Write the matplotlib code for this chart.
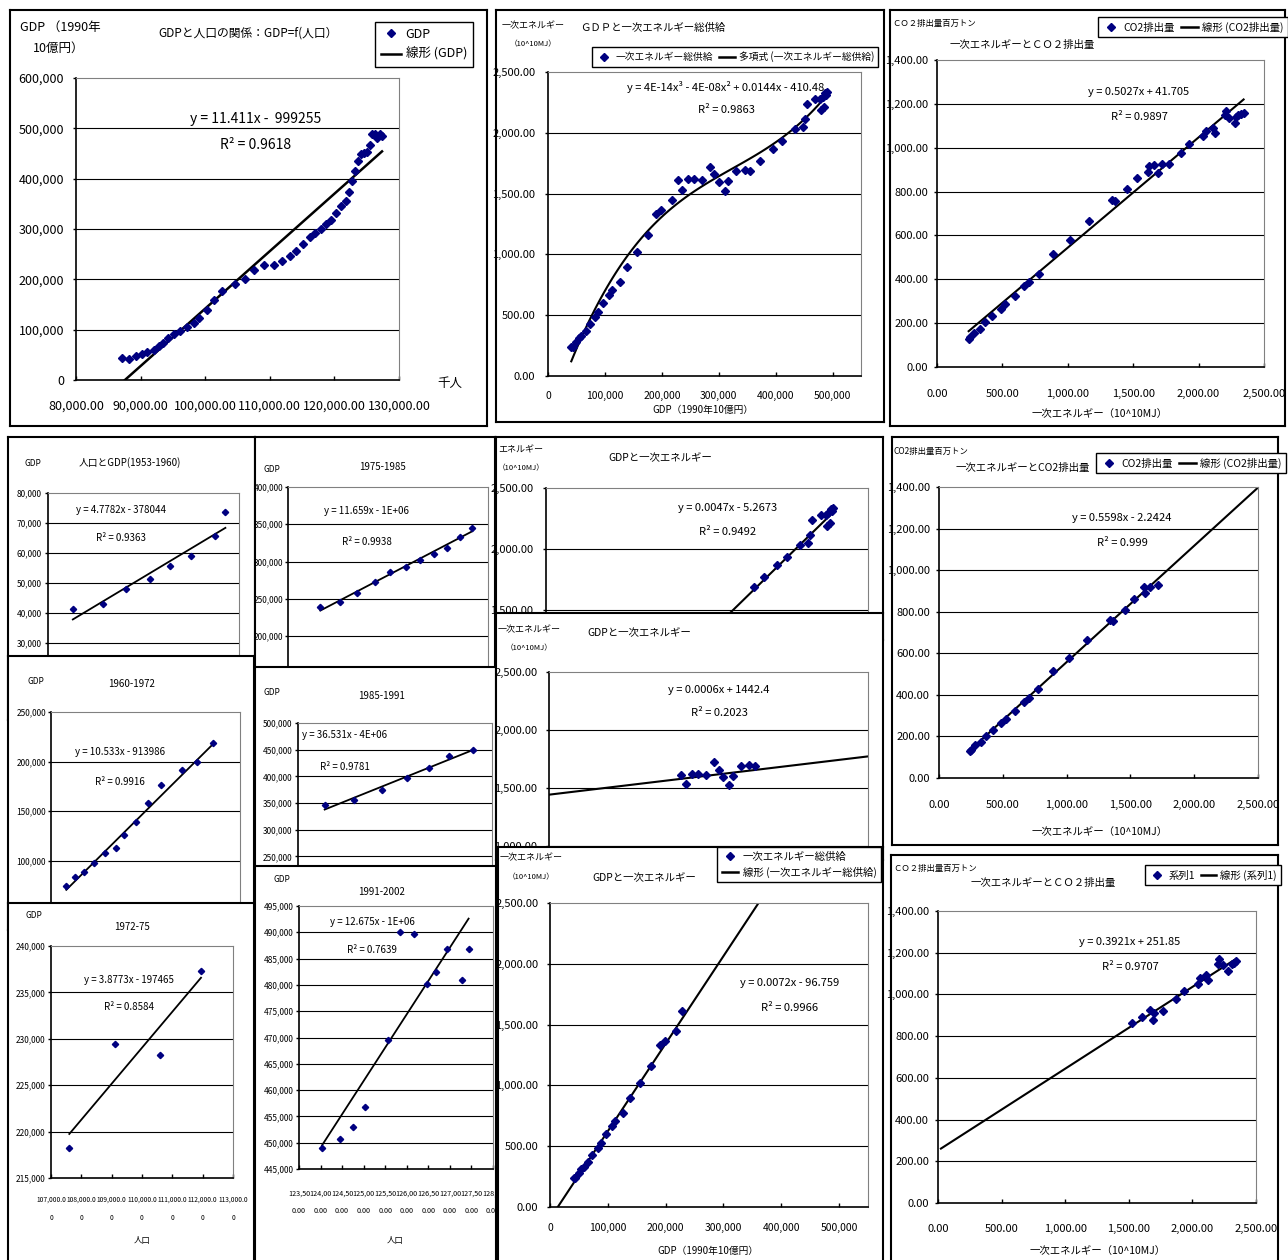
import numpy as np
import matplotlib
matplotlib.use('Agg')
import matplotlib.pyplot as plt
from matplotlib.ticker import FuncFormatter
from matplotlib.lines import Line2D

# ---- values ----
# GDP vs population (top left, all years)
pop_all = [87062, 88247, 89278, 90258, 90979, 92062, 92887, 93402, 94278, 95155, 96134, 97165,
           98196, 99072, 100206, 101340, 102577, 104639, 106134, 107577, 109124, 110619, 111959,
           113093, 114124, 115155, 116289, 117062, 117990, 118763, 119536, 120309, 121082, 121753,
           122268, 122784, 123196, 123660, 124175, 124588, 125000, 125567, 125876, 126237, 126598,
           127010, 127371]
gdp_all = [43000, 42300, 47000, 51600, 56200, 59500, 67500, 72800, 83300, 90600, 97200, 105800,
           112400, 123700, 138900, 158700, 177200, 189800, 199700, 218300, 228200, 228200, 237400,
           246700, 256600, 270500, 284400, 292300, 300900, 310800, 317500, 332000, 345900, 355200,
           373700, 394800, 414700, 434500, 448400, 451100, 453000, 467600, 489400, 489400, 480800,
           488100, 484800]

# GDP vs primary energy supply (sorted by GDP)
gdp_e = [40900, 43900, 49700, 54400, 58500, 66100, 73100, 82500, 87700, 96500, 106400, 112300,
         125700, 138600, 156100, 175400, 190100, 199400, 217500, 228100, 236300, 246200, 256100,
         270200, 284200, 292400, 300000, 310500, 316900, 330400, 345600, 354970, 371900, 394700,
         411700, 434500, 447400, 450900, 454400, 469000, 478400, 479500, 482500, 485400, 487100,
         488300, 490100]
energy = [241, 241, 282, 309, 329, 370, 427, 487, 523, 597, 665, 706, 775, 893, 1021, 1158, 1336,
          1364, 1451, 1610, 1533, 1624, 1624, 1610, 1720, 1659, 1596, 1522, 1605, 1687, 1698, 1687,
          1769, 1865, 1930, 2034, 2048, 2117, 2234, 2281, 2281, 2191, 2295, 2212, 2327, 2308, 2336]

# energy vs CO2 (all years / early years / later years)
en_all = [242, 253, 283, 327, 365, 423, 487, 523, 594, 666, 707, 776, 890, 1020, 1161, 1339, 1360,
          1454, 1528, 1615, 1622, 1661, 1686, 1722, 1770, 1865, 1929, 2036, 2054, 2107, 2125, 2202,
          2209, 2235, 2278, 2283, 2304, 2324, 2344]
co2_all = [129, 137, 157, 175, 203, 233, 266, 286, 323, 368, 387, 426, 517, 578, 665, 761, 755,
           810, 860, 890, 916, 921, 883, 928, 924, 977, 1017, 1053, 1078, 1088, 1065, 1149, 1169,
           1134, 1111, 1138, 1149, 1156, 1160]
en_early = [242, 253, 283, 327, 365, 423, 487, 523, 594, 666, 707, 776, 890, 1020, 1161, 1339,
            1360, 1454, 1528, 1608, 1613, 1657, 1717]
co2_early = [129, 137, 157, 175, 203, 233, 266, 286, 323, 368, 387, 426, 517, 578, 665, 761, 755,
             810, 860, 917, 888, 920, 928]
en_late = [1523, 1602, 1667, 1688, 1701, 1767, 1869, 1937, 2042, 2060, 2105, 2126, 2199, 2209,
           2243, 2283, 2309, 2327, 2343]
co2_late = [864, 893, 925, 877, 909, 922, 976, 1017, 1049, 1077, 1093, 1069, 1148, 1172, 1140,
            1113, 1148, 1152, 1161]

# population vs GDP by period
pop53 = [87040, 88290, 89280, 90270, 91100, 92010, 92980, 93430]
gdp53 = [41440, 43000, 48000, 51440, 55560, 59110, 65780, 73560]
pop60 = [93455, 94270, 95150, 96090, 97130, 98165, 98920, 100080, 101240, 102470, 104510, 105920,
         107430]
gdp60 = [73740, 83160, 88220, 97310, 107410, 113130, 125930, 139390, 157910, 176430, 191580,
         200000, 218520]
pop72 = [107603, 109116, 110586, 111945]
gdp72 = [218228, 229420, 228270, 237346]
pop75 = [111940, 113090, 114150, 115190, 116130, 117060, 117900, 118730, 119540, 120300, 121050]
gdp75 = [238840, 246430, 257590, 272320, 286610, 293300, 302230, 310270, 318750, 332590, 345540]
pop85 = [121050, 121660, 122240, 122750, 123200, 123610, 124100]
gdp85 = [345900, 355350, 374200, 397500, 415100, 438400, 449060]
pop91 = [124034, 124445, 124755, 125026, 125560, 125854, 126164, 126474, 126675, 126923, 127287,
         127434]
gdp91 = [448924, 450696, 452911, 456823, 469430, 490127, 489684, 480190, 482405, 486772, 481013,
         486772]

plt.rcParams['font.family'] = ['Noto Sans CJK JP', 'DejaVu Sans']

W, H = 1288, 1260
NAVY = '#000080'
fig = plt.figure(figsize=(W / 100, H / 100), dpi=100)

f0 = FuncFormatter(lambda v, p: f'{v:,.0f}')
f2 = FuncFormatter(lambda v, p: f'{v:,.2f}')


def box(x0, y0, x1, y1):
    return fig.add_axes([x0 / W, 1 - y1 / H, (x1 - x0) / W, (y1 - y0) / H])


def frame(x0, y0, x1, y1):
    f = box(x0, y0, x1, y1)
    f.set_xticks([])
    f.set_yticks([])
    for s in f.spines.values():
        s.set_linewidth(1.5)


def put(ax, x, y, s, size, ha='center', va='center'):
    ax.text(x / W, 1 - y / H, s, transform=fig.transFigure, fontsize=size, ha=ha, va=va,
            zorder=6)


def plot_box(rect, xlim, xstep, xend, ylim, ystep, xfmt, yfmt, xfs, yfs, xpad, ypad,
             xlabels=True, yfrom=None):
    # yfrom: lowest tick still visible when the panel is cut by the next one
    ax = box(*rect)
    ax.set_xlim(xlim)
    ax.set_ylim(ylim)
    ax.set_xticks(np.arange(xlim[0], xend + xstep / 2, xstep))
    yt = np.arange(ylim[0] if yfrom is None else yfrom, ylim[1] + ystep / 2, ystep)
    ax.set_yticks(yt)
    ax.xaxis.set_major_formatter(xfmt)
    ax.yaxis.set_major_formatter(yfmt)
    ax.tick_params(axis='x', direction='in', length=3, width=1, labelsize=xfs, pad=xpad,
                   labelbottom=xlabels)
    ax.tick_params(axis='y', direction='out', length=2, width=1, labelsize=yfs, pad=ypad)
    for v in yt:
        if ylim[0] < v < ylim[1]:
            ax.axhline(v, color='black', lw=0.8, zorder=1)
    ax.spines['top'].set_color('#808080')
    ax.spines['right'].set_color('#808080')
    ax.spines['left'].set_linewidth(1.2)
    ax.spines['bottom'].set_linewidth(1.2)
    return ax


def legend_box(ax, x, y, labels, ncol, fs, ms=4, gap=0.3, hl=1.6):
    h = [Line2D([], [], ls='none', marker='D', color=NAVY, ms=ms),
         Line2D([], [], color='black', lw=1.8)]
    lg = ax.legend(h, labels, ncol=ncol, loc='upper left', bbox_to_anchor=(x / W, 1 - y / H),
                   bbox_transform=fig.transFigure, fontsize=fs, fancybox=False, framealpha=1,
                   edgecolor='black', borderaxespad=0, borderpad=0.45, handlelength=hl,
                   handletextpad=0.4, columnspacing=0.6, labelspacing=gap)
    lg.get_frame().set_linewidth(1.0)


def dots(ax, x, y, ms=4):
    ax.plot(x, y, ls='none', marker='D', ms=ms, color=NAVY, zorder=3)


def trend(ax, x0, x1, slope, icpt, lw=1.5):
    xs = np.linspace(x0, x1, 50)
    ax.plot(xs, slope * xs + icpt, color='black', lw=lw, zorder=2)


# ---------- top left: GDP = f(population) ----------
frame(10, 10, 487, 426)
ax = plot_box((76, 78, 399, 380), (80000, 130000), 10000, 130000, (0, 600000), 100000,
              f2, f0, 9, 9, 14, 6.5)
dots(ax, pop_all, gdp_all)
trend(ax, min(pop_all), max(pop_all), 11.411, -999255, 1.8)
put(ax, 248, 33, 'GDPと人口の関係：GDP=f(人口）', 8.5)
put(ax, 20, 27, 'GDP （1990年', 9, ha='left')
put(ax, 33, 48, '10億円）', 9, ha='left')
put(ax, 450, 383, '千人', 9)
put(ax, 256, 119, 'y = 11.411x -  999255', 10)
put(ax, 256, 145, 'R² = 0.9618', 10)
legend_box(ax, 375, 22, ['GDP', '線形 (GDP)'], 1, 9, gap=0.55)

# ---------- top middle: GDP vs energy, cubic ----------
frame(496, 10, 884, 422)
ax = plot_box((548, 72, 861, 376), (0, 550000), 100000, 500000, (0, 2500), 500,
              f0, f2, 7.5, 8, 11, 7)
dots(ax, gdp_e, energy)
c3 = np.polyfit(gdp_e, energy, 3)
xs = np.linspace(min(gdp_e), max(gdp_e), 100)
ax.plot(xs, np.polyval(c3, xs), color='black', lw=1.5, zorder=2)
put(ax, 653, 28, 'ＧＤＰと一次エネルギー総供給', 7.5)
put(ax, 502, 26, '一次エネルギー', 6.5, ha='left')
put(ax, 510, 44, '（10^10MJ）', 5.5, ha='left')
put(ax, 726, 87, 'y = 4E-14x³ - 4E-08x² + 0.0144x - 410.48', 8)
put(ax, 726, 110, 'R² = 0.9863', 8)
put(ax, 703, 410, 'GDP（1990年10億円）', 7)
legend_box(ax, 592, 47, ['一次エネルギー総供給', '多項式 (一次エネルギー総供給)'], 2, 7)

# ---------- top right: energy vs CO2 ----------
frame(890, 10, 1285, 426)
ax = plot_box((937, 60, 1264, 367), (0, 2500), 500, 2500, (0, 1400), 200,
              f2, f2, 8, 8, 16, 4.2)
dots(ax, en_all, co2_all)
trend(ax, min(en_all), max(en_all), 0.5027, 41.705)
put(ax, 892, 23, 'ＣＯ２排出量百万トン', 6, ha='left')
put(ax, 1022, 45, '一次エネルギーとＣＯ２排出量', 7.5)
put(ax, 1139, 92, 'y = 0.5027x + 41.705', 8)
put(ax, 1139, 117, 'R² = 0.9897', 8)
put(ax, 1100, 414, '一次エネルギー（10^10MJ）', 7.5)
legend_box(ax, 1098, 17, ['CO2排出量', '線形 (CO2排出量)'], 2, 7.5)

# ---------- left column ----------
frame(8, 437, 255, 720)
ax = plot_box((48, 493, 239, 673), (86000, 94000), 1000, 94000, (20000, 80000), 10000,
              f0, f0, 6, 6, 3, 2.5, xlabels=False, yfrom=30000)
dots(ax, pop53, gdp53, 3.2)
trend(ax, min(pop53), max(pop53), 4.7782, -378044, 1.3)
put(ax, 25, 463, 'GDP', 6, ha='left')
put(ax, 130, 463, '人口とGDP(1953-1960)', 7)
put(ax, 121, 510, 'y = 4.7782x - 378044', 7)
put(ax, 121, 538, 'R² = 0.9363', 7)

frame(8, 656, 254, 930)
ax = plot_box((51, 712, 240, 910), (92000, 110000), 2000, 110000, (50000, 250000), 50000,
              f0, f0, 6, 6, 3, 1.6, xlabels=False, yfrom=100000)
dots(ax, pop60, gdp60, 3.2)
trend(ax, min(pop60), max(pop60), 10.533, -913986, 1.3)
put(ax, 27, 682, 'GDP', 6, ha='left')
put(ax, 132, 684, '1960-1972', 7)
put(ax, 120, 752, 'y = 10.533x - 913986', 7)
put(ax, 120, 782, 'R² = 0.9916', 7)

frame(8, 903, 254, 1262)
ax = plot_box((51, 946, 233, 1178), (107000, 113000), 1000, 113000, (215000, 240000), 5000,
              FuncFormatter(lambda v, p: f'{v:,.2f}'[:9] + '\n' + f'{v:,.2f}'[9:]),
              f0, 4.8, 6, 13, 1.8)
for t in ax.get_xticklabels():
    t.set_linespacing(2.6)
dots(ax, pop72, gdp72, 3.2)
trend(ax, min(pop72), max(pop72), 3.8773, -197465, 1.3)
put(ax, 26, 916, 'GDP', 6, ha='left')
put(ax, 132, 927, '1972-75', 7)
put(ax, 129, 980, 'y = 3.8773x - 197465', 7)
put(ax, 129, 1007, 'R² = 0.8584', 7)
put(ax, 142, 1240, '人口', 6)

# ---------- second column ----------
frame(255, 437, 495, 700)
ax = plot_box((288, 487, 488, 673.5), (110000, 122000), 2000, 122000, (150000, 400000), 50000,
              f0, f0, 6, 6, 3, 1.4, xlabels=False, yfrom=200000)
dots(ax, pop75, gdp75, 3.2)
s75 = 11.659
trend(ax, min(pop75), max(pop75), s75, np.mean(gdp75) - s75 * np.mean(pop75), 1.3)
put(ax, 263, 470, 'GDP', 6, ha='left')
put(ax, 382, 467, '1975-1985', 7)
put(ax, 367, 511, 'y = 11.659x - 1E+06', 7)
put(ax, 367, 542, 'R² = 0.9938', 7)

frame(255, 667, 496, 900)
ax = plot_box((298, 723, 492, 883), (120500, 124500), 500, 124500, (200000, 500000), 50000,
              f0, f0, 6, 6, 3, 1.8, xlabels=False, yfrom=250000)
dots(ax, pop85, gdp85, 3.2)
s85 = 36.531
trend(ax, min(pop85), max(pop85), s85, np.mean(gdp85) - s85 * np.mean(pop85), 1.3)
put(ax, 264, 692, 'GDP', 6, ha='left')
put(ax, 382, 696, '1985-1991', 7)
put(ax, 345, 735, 'y = 36.531x - 4E+06', 7)
put(ax, 345, 767, 'R² = 0.9781', 7)

frame(255, 866, 496, 1262)
ax = plot_box((299, 906, 493, 1169), (123500, 128000), 500, 128000, (445000, 495000), 5000,
              FuncFormatter(lambda v, p: f'{v:,.2f}'[:6] + '\n' + f'{v:,.2f}'[6:]),
              f0, 5.2, 6, 15, 1.8)
for t in ax.get_xticklabels():
    t.set_linespacing(2.5)
dots(ax, pop91, gdp91, 3.2)
s91 = 12.675
trend(ax, min(pop91), max(pop91), s91, np.mean(gdp91) - s91 * np.mean(pop91), 1.3)
put(ax, 273, 880, 'GDP', 6, ha='left')
put(ax, 382, 892, '1991-2002', 7)
put(ax, 372, 922, 'y = 12.675x - 1E+06', 7)
put(ax, 372, 950, 'R² = 0.7639', 7)
put(ax, 395, 1240, '人口', 6)

# ---------- middle column (three GDP / energy periods) ----------
frame(496, 437, 883, 640)
ax = plot_box((546, 488, 868, 792), (0, 550000), 100000, 500000, (0, 2500), 500,
              f0, f2, 7.5, 8, 11, 7, xlabels=False, yfrom=1500)
dots(ax, gdp_e[31:], energy[31:])
trend(ax, gdp_e[27], max(gdp_e), 0.0047, -5.2673)
put(ax, 498, 450, 'エネルギー', 6.5, ha='left')
put(ax, 498, 468, '（10^10MJ）', 5.5, ha='left')
put(ax, 660, 458, 'GDPと一次エネルギー', 7.5)
put(ax, 728, 508, 'y = 0.0047x - 5.2673', 8)
put(ax, 728, 532, 'R² = 0.9492', 8)

frame(496, 613, 883, 860)
ax = plot_box((549, 672, 868, 962), (0, 550000), 100000, 500000, (0, 2500), 500,
              f0, f2, 7.5, 8, 11, 6.4, xlabels=False, yfrom=1000)
dots(ax, gdp_e[19:32], energy[19:32])
trend(ax, 0, 550000, 0.0006, 1442.4)
put(ax, 498, 630, '一次エネルギー', 6.5, ha='left')
put(ax, 506, 648, '（10^10MJ）', 5.5, ha='left')
put(ax, 639, 633, 'GDPと一次エネルギー', 7.5)
put(ax, 719, 690, 'y = 0.0006x + 1442.4', 8)
put(ax, 719, 713, 'R² = 0.2023', 8)

frame(498, 847, 883, 1262)
ax = plot_box((550, 903, 868, 1207), (0, 550000), 100000, 500000, (0, 2500), 500,
              f0, f2, 7.5, 8, 11.5, 6.4)
dots(ax, gdp_e[:20], energy[:20])
trend(ax, 0, 550000, 0.0072, -96.759)
put(ax, 500, 858, '一次エネルギー', 6.5, ha='left')
put(ax, 508, 877, '（10^10MJ）', 5.5, ha='left')
put(ax, 644, 878, 'GDPと一次エネルギー', 7.5)
put(ax, 790, 983, 'y = 0.0072x - 96.759', 8)
put(ax, 790, 1008, 'R² = 0.9966', 8)
put(ax, 708, 1251, 'GDP（1990年10億円）', 7)
legend_box(ax, 717, 847, ['一次エネルギー総供給', '線形 (一次エネルギー総供給)'], 1, 7.5,
           gap=0.45)

# ---------- right column: energy vs CO2 by period ----------
frame(892, 437, 1278, 845)
ax = plot_box((939, 487, 1258, 778), (0, 2500), 500, 2500, (0, 1400), 200,
              f2, f2, 8, 8, 16, 4.5)
dots(ax, en_early, co2_early)
trend(ax, min(en_early), max(en_early) + 800, 0.5598, -2.2424)
put(ax, 894, 451, 'CO2排出量百万トン', 6, ha='left')
put(ax, 1023, 468, '一次エネルギーとCO2排出量', 7.5)
put(ax, 1122, 518, 'y = 0.5598x - 2.2424', 8)
put(ax, 1122, 543, 'R² = 0.999', 8)
put(ax, 1100, 832, '一次エネルギー（10^10MJ）', 7.5)
legend_box(ax, 1096, 453, ['CO2排出量', '線形 (CO2排出量)'], 2, 7.5)

frame(891, 855, 1278, 1262)
ax = plot_box((938, 911, 1256, 1203), (0, 2500), 500, 2500, (0, 1400), 200,
              f2, f2, 8, 8, 15, 4.5)
dots(ax, en_late, co2_late)
trend(ax, min(en_late) - 1500, max(en_late), 0.3921, 251.85)
put(ax, 893, 868, 'ＣＯ２排出量百万トン', 6, ha='left')
put(ax, 1043, 883, '一次エネルギーとＣＯ２排出量', 7.5)
put(ax, 1130, 942, 'y = 0.3921x + 251.85', 8)
put(ax, 1130, 967, 'R² = 0.9707', 8)
put(ax, 1098, 1251, '一次エネルギー（10^10MJ）', 7.5)
legend_box(ax, 1145, 865, ['系列1', '線形 (系列1)'], 2, 7.5, hl=1.4)

fig.savefig('out.png', dpi=100, facecolor='white')
